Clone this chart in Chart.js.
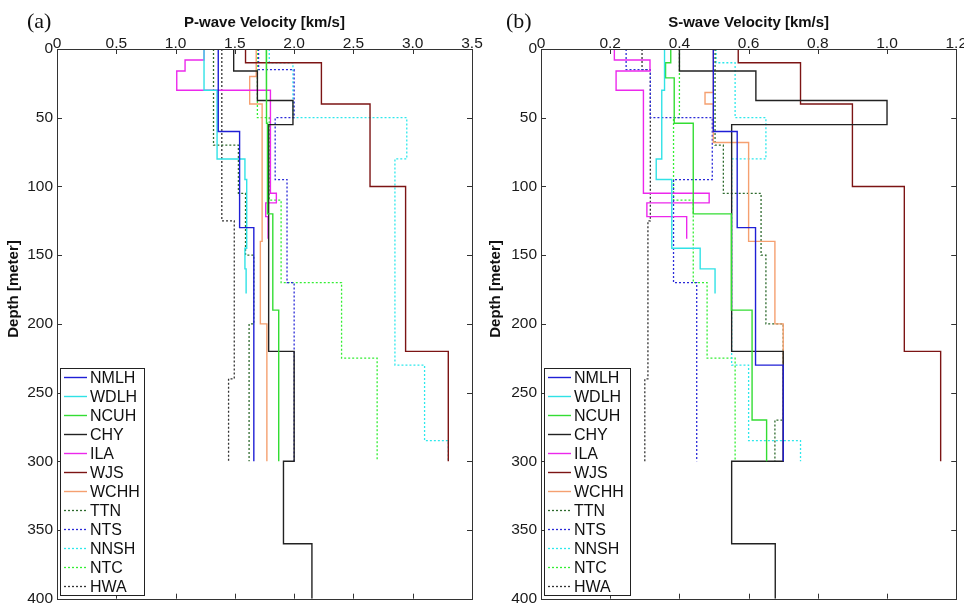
<!DOCTYPE html>
<html>
<head>
<meta charset="utf-8">
<script src="https://cdn.jsdelivr.net/npm/chart.js@4/dist/chart.umd.min.js"></script>
<style>
  html,body{margin:0;padding:0;background:#fff;}
  body{width:964px;height:607px;position:relative;overflow:hidden;}
  .cv{position:absolute;top:0;}
  .plabel{position:absolute;top:9px;font-family:"Liberation Serif","Times New Roman",serif;font-size:22px;line-height:24px;color:#111;}
</style>
</head>
<body>
<div class="cv" style="left:0;width:492px;height:612px;"><canvas id="cA"></canvas></div>
<div class="cv" style="left:482px;width:483px;height:612px;"><canvas id="cB"></canvas></div>
<div class="plabel" style="left:27px;">(a)</div>
<div class="plabel" style="left:506px;">(b)</div>
<script>
// ---------------- DATA ----------------
const stations = ['NMLH','WDLH','NCUH','CHY','ILA','WJS','WCHH','TTN','NTS','NNSH','NTC','HWA'];

// layer boundaries [m], P-wave and S-wave velocity per layer [km/s]
const NMLH_depth = [0, 60, 130, 230, 300];
const NMLH_vp    = [1.36, 1.54, 1.66, 1.66];
const NMLH_vs    = [0.498, 0.567, 0.62, 0.70];

const WDLH_depth = [0, 30, 80, 95, 145, 160, 178];
const WDLH_vp    = [1.24, 1.35, 1.585, 1.60, 1.585, 1.595];
const WDLH_vs    = [0.357, 0.349, 0.333, 0.378, 0.46, 0.503];

const NCUH_depth = [0, 10, 21, 54, 120, 190, 270, 300];
const NCUH_vp    = [1.765, 1.765, 1.77, 1.775, 1.82, 1.87, 1.87];
const NCUH_vs    = [0.375, 0.36, 0.385, 0.44, 0.55, 0.61, 0.652];

const CHY_depth  = [0, 16, 37.5, 55, 220, 300, 360, 400];
const CHY_vp     = [1.49, 1.69, 1.99, 1.785, 2.0, 1.91, 2.15];
const CHY_vs     = [0.40, 0.621, 1.0, 0.551, 0.70, 0.551, 0.677];

const ILA_depth  = [0, 8, 16, 30, 105, 112, 122, 138];
const ILA_vp     = [1.24, 1.08, 1.01, 1.80, 1.85, 1.76, 1.78];
const ILA_vs     = [0.212, 0.315, 0.217, 0.296, 0.486, 0.306, 0.421];

const WJS_depth  = [0, 10, 40, 100, 220, 300];
const WJS_vp     = [1.59, 2.23, 2.64, 2.94, 3.30];
const WJS_vs     = [0.57, 0.75, 0.90, 1.05, 1.155];

const WCHH_depth = [0, 20, 31.6, 40, 68, 140, 200, 300];
const WCHH_vp    = [1.68, 1.625, 1.625, 1.73, 1.73, 1.715, 1.77];
const WCHH_vs    = [0.498, 0.498, 0.474, 0.498, 0.60, 0.676, 0.70];

const TTN_depth  = [0, 70, 105, 150, 200, 270, 300];
const TTN_vp     = [1.32, 1.53, 1.59, 1.66, 1.62, 1.62];
const TTN_vs     = [0.503, 0.527, 0.636, 0.65, 0.70, 0.676];

const NTS_depth  = [0, 15, 50, 95, 170, 300];
const NTS_vp     = [1.70, 2.0, 1.84, 1.94, 2.0];
const NTS_vs     = [0.246, 0.316, 0.495, 0.383, 0.45];

const NNSH_depth = [0, 10, 50, 80, 230, 285, 300];
const NNSH_vp    = [1.79, 1.99, 2.95, 2.85, 3.10, 3.30];
const NNSH_vs    = [0.506, 0.561, 0.65, 0.551, 0.60, 0.75];

const NTC_depth  = [0, 50, 110, 170, 225, 300];
const NTC_vp     = [1.69, 1.79, 1.89, 2.40, 2.70];
const NTC_vs     = [0.40, 0.383, 0.44, 0.48, 0.561];

const HWA_depth  = [0, 15, 125, 240, 300];
const HWA_vp     = [1.39, 1.39, 1.495, 1.447];
const HWA_vs     = [0.292, 0.316, 0.309, 0.30];

const depthTicks = [0, 50, 100, 150, 200, 250, 300, 350, 400];
const vpTicks = [0, 0.5, 1, 1.5, 2, 2.5, 3, 3.5];
const vsTicks = [0, 0.2, 0.4, 0.6, 0.8, 1, 1.2];

// ---------------- STYLE ----------------
const profiles = {
  NMLH: [NMLH_depth, NMLH_vp, NMLH_vs], WDLH: [WDLH_depth, WDLH_vp, WDLH_vs],
  NCUH: [NCUH_depth, NCUH_vp, NCUH_vs], CHY: [CHY_depth, CHY_vp, CHY_vs],
  ILA: [ILA_depth, ILA_vp, ILA_vs], WJS: [WJS_depth, WJS_vp, WJS_vs],
  WCHH: [WCHH_depth, WCHH_vp, WCHH_vs], TTN: [TTN_depth, TTN_vp, TTN_vs],
  NTS: [NTS_depth, NTS_vp, NTS_vs], NNSH: [NNSH_depth, NNSH_vp, NNSH_vs],
  NTC: [NTC_depth, NTC_vp, NTC_vs], HWA: [HWA_depth, HWA_vp, HWA_vs]
};
const styles = {
  NMLH: {c:'#1f1fd6', d:[]}, WDLH: {c:'#30e2e6', d:[]}, NCUH: {c:'#33dd33', d:[]},
  CHY: {c:'#222222', d:[]}, ILA: {c:'#ec28ec', d:[]}, WJS: {c:'#7c1414', d:[]},
  WCHH: {c:'#f5a070', d:[]}, TTN: {c:'#2d6a2d', d:[2,2]}, NTS: {c:'#2a2ad8', d:[2,2]},
  NNSH: {c:'#2ee8ec', d:[2,2]}, NTC: {c:'#33ee33', d:[2,2]}, HWA: {c:'#333333', d:[2,2]}
};

Chart.defaults.font.family = '"Liberation Sans", Arial, sans-serif';
Chart.defaults.color = '#1a1a1a';

function stepPoints(depths, vels) {
  const pts = [];
  for (let i = 0; i < vels.length; i++) {
    pts.push({x: vels[i], y: depths[i]});
    pts.push({x: vels[i], y: depths[i + 1]});
  }
  return pts;
}
function makeDatasets(idx) {
  return stations.map(s => {
    const p = profiles[s];
    return {
      label: s, data: stepPoints(p[0], p[idx]),
      borderColor: styles[s].c, borderDash: styles[s].d,
      borderWidth: styles[s].d.length ? 1.3 : 1.4,
      pointRadius: 0, showLine: true, tension: 0, fill: false
    };
  });
}

const boxTicksPlugin = {
  id: 'boxTicks',
  afterDraw(chart, args, opts) {
    const {ctx, chartArea: a, scales} = chart;
    ctx.save();
    ctx.strokeStyle = '#333'; ctx.lineWidth = 1;
    ctx.strokeRect(Math.round(a.left) + 0.5, Math.round(a.top) + 0.5,
                   Math.round(a.right - a.left), Math.round(a.bottom - a.top));
    ctx.beginPath();
    const tl = 5;
    scales.x.ticks.forEach(t => {
      const px = Math.round(scales.x.getPixelForValue(t.value)) + 0.5;
      ctx.moveTo(px, a.top); ctx.lineTo(px, a.top + tl);
      ctx.moveTo(px, a.bottom); ctx.lineTo(px, a.bottom - tl);
    });
    scales.y.ticks.forEach(t => {
      const py = Math.round(scales.y.getPixelForValue(t.value)) + 0.5;
      ctx.moveTo(a.left, py); ctx.lineTo(a.left + tl, py);
      ctx.moveTo(a.right, py); ctx.lineTo(a.right - tl, py);
    });
    ctx.stroke();
    // y-axis title
    ctx.translate(opts.ytx, opts.yty);
    ctx.rotate(-Math.PI / 2);
    ctx.font = 'bold 15px "Liberation Sans", Arial, sans-serif';
    ctx.fillStyle = '#111';
    ctx.textAlign = 'center'; ctx.textBaseline = 'middle';
    ctx.fillText('Depth [meter]', 0, 0);
    ctx.restore();
  }
};

const legendPlugin = {
  id: 'boxLegend',
  afterDraw(chart, args, opts) {
    const {ctx, chartArea: a} = chart;
    const ds = chart.data.datasets;
    const rowH = 19, pad = 9;
    const x0 = Math.round(a.left + opts.dx), w = opts.w;
    const bottom = Math.round(a.bottom - 4);
    const top = bottom - (ds.length - 1) * rowH - 2 * pad;
    ctx.save();
    ctx.fillStyle = '#fff';
    ctx.fillRect(x0, top, w, bottom - top);
    ctx.strokeStyle = '#222'; ctx.lineWidth = 1;
    ctx.strokeRect(x0 + 0.5, top + 0.5, w, bottom - top);
    ctx.font = '16px "Liberation Sans", Arial, sans-serif';
    ctx.textBaseline = 'middle'; ctx.textAlign = 'left';
    ds.forEach((d, i) => {
      const y = Math.round(top + pad + rowH * i) + 0.5;
      ctx.beginPath();
      ctx.strokeStyle = d.borderColor; ctx.lineWidth = d.borderWidth;
      ctx.setLineDash(d.borderDash || []);
      ctx.moveTo(x0 + 4, y); ctx.lineTo(x0 + 27, y);
      ctx.stroke();
      ctx.setLineDash([]);
      ctx.fillStyle = '#111';
      ctx.fillText(d.label, x0 + 30, y + 1);
    });
    ctx.restore();
  }
};

function makeChart(id, idx, xmax, xticks, title, leftW, padRight, legendW) {
  return new Chart(document.getElementById(id), {
    type: 'scatter',
    data: { datasets: makeDatasets(idx) },
    plugins: [boxTicksPlugin, legendPlugin],
    options: {
      responsive: true, maintainAspectRatio: false, animation: false,
      layout: { padding: { left: 0, top: 0, right: padRight, bottom: 0 } },
      plugins: { legend: { display: false }, tooltip: { enabled: false },
                 boxLegend: { dx: 3, w: legendW },
                 boxTicks: { ytx: 14, yty: 289 } },
      scales: {
        x: {
          type: 'linear', position: 'top', min: 0, max: xmax,
          afterBuildTicks: s => { s.ticks = xticks.map(v => ({value: v})); },
          ticks: { padding: -2, maxRotation: 0, autoSkip: false,
                   font: { size: 15.5, lineHeight: 1 }, color: '#1a1a1a' },
          grid: { display: false, drawTicks: false }, border: { display: false },
          title: { display: true, text: title, color: '#111',
                   font: { size: 15, weight: 'bold', lineHeight: 1.2 },
                   padding: { top: 14, bottom: 0 } },
          afterFit: s => { s.height = 49; }
        },
        y: {
          type: 'linear', position: 'left', reverse: true, min: 0, max: 400,
          afterBuildTicks: s => { s.ticks = depthTicks.map(v => ({value: v})); },
          ticks: { padding: 4, autoSkip: false,
                   font: { size: 15.5 }, color: '#1a1a1a' },
          grid: { display: false, drawTicks: false }, border: { display: false },
          title: { display: false },
          afterFit: s => { s.width = leftW; }
        }
      }
    }
  });
}

makeChart('cA', 1, 3.5, vpTicks, 'P-wave Velocity [km/s]', 57, 20, 84);
makeChart('cB', 2, 1.2, vsTicks, 'S-wave Velocity [km/s]', 59, 0, 86);
</script>
</body>
</html>
